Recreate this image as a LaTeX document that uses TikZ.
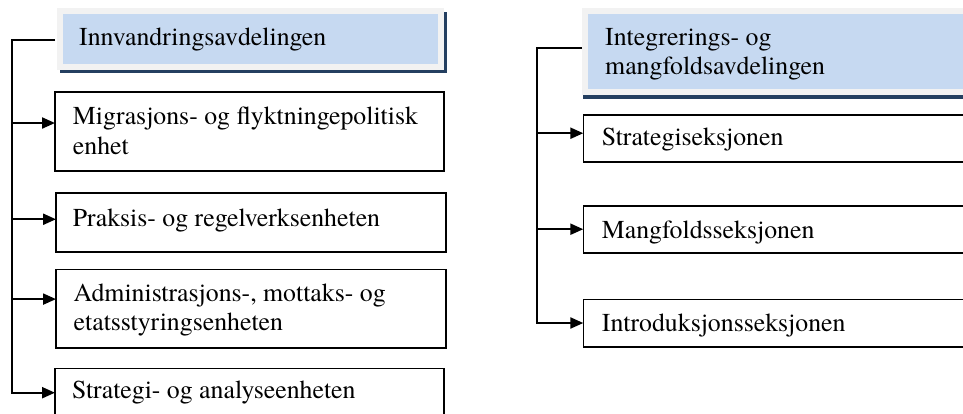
\documentclass[tikz,border=0pt]{standalone}
\usepackage{fontspec}
\setmainfont{texgyretermes}[Extension=.otf, UprightFont=*-regular, BoldFont=*-bold, ItalicFont=*-italic, BoldItalicFont=*-bolditalic]
\usetikzlibrary{arrows.meta,calc}
\definecolor{hdrblue}{HTML}{C6D9F1}
\definecolor{hdrgray}{HTML}{F2F2F2}
\definecolor{hdrnavy}{HTML}{243F60}
\tikzset{
  unitbox/.style={draw=black, line width=1.6pt, fill=white, anchor=north west, inner sep=0pt, outer sep=0pt},
  hdrbox/.style={draw=hdrgray, line width=6pt, fill=hdrblue, anchor=north west, inner sep=0pt, outer sep=0pt},
  shadowbox/.style={fill=hdrnavy, draw=none},
  lbl/.style={anchor=base west, inner sep=0pt, font=\rmfamily\fontsize{25.8}{29.5}\selectfont},
  conn/.style={draw=black, line width=2.2pt},
  arr/.style={conn, -{Triangle[length=13pt,width=11pt]}}
}
\begin{document}
\begin{tikzpicture}[x=1pt,y=-1pt]
\useasboundingbox (0,0) rectangle (963,413);
\clip (0,0) rectangle (963,413);
\fill[white] (0,0) rectangle (963,413);

% Left header
\fill[shadowbox] (60,12) rectangle (447,72.7);
\node[hdrbox, minimum width=381, minimum height=55.5] (hdrL) at (60,11) {};
\node[lbl] (thL) at (79,45) {Innvandringsavdelingen};

% Right header
\fill[shadowbox] (583.3,12) rectangle (990,99);
\node[hdrbox, minimum width=400, minimum height=81] (hdrR) at (585,11) {};
\node[lbl] (thR1) at (605,45) {Integrerings- og};
\node[lbl] (thR2) at (605,74.5) {mangfoldsavdelingen};

% Left boxes
\node[unitbox, minimum width=389, minimum height=78.7] (b1) at (55,92) {};
\node[lbl] (t1a) at (72.7,124.5) {Migrasjons- og flyktningepolitisk};
\node[lbl] (t1b) at (72.7,154) {enhet};

\node[unitbox, minimum width=390, minimum height=59] (b2) at (56,192.7) {};
\node[lbl] (t2) at (72.7,226.7) {Praksis- og regelverksenheten};

\node[unitbox, minimum width=390, minimum height=78.4] (b3) at (56,269.3) {};
\node[lbl] (t3a) at (73.5,301) {Administrasjons-, mottaks- og};
\node[lbl] (t3b) at (73.5,330.5) {etatsstyringsenheten};

\node[unitbox, minimum width=389, minimum height=48.8] (b4) at (55,368.3) {};
\node[lbl] (t4) at (72,398) {Strategi- og analyseenheten};

% Right boxes
\node[unitbox, minimum width=400, minimum height=46.7] (r1) at (583.3,115) {};
\node[lbl] (tr1) at (601.7,145) {Strategiseksjonen};

\node[unitbox, minimum width=400, minimum height=47] (r2) at (583.3,205.7) {};
\node[lbl] (tr2) at (601.7,238.3) {Mangfoldsseksjonen};

\node[unitbox, minimum width=400, minimum height=47.4] (r3) at (583.3,299.3) {};
\node[lbl] (tr3) at (601.7,331.7) {Introduksjonsseksjonen};

% Left connectors
\coordinate (lspine) at (12,40);
\draw[arr] (hdrL.west |- lspine) ++(-5,0) -- (lspine) |- (b4.west);
\draw[arr] (lspine |- {$(b1.north west)!0.394!(b1.south west)$}) -- ($(b1.north west)!0.394!(b1.south west)$);
\draw[arr] (lspine |- {$(b2.north west)!0.45!(b2.south west)$}) -- ($(b2.north west)!0.45!(b2.south west)$);
\draw[arr] (lspine |- {$(b3.north west)!0.38!(b3.south west)$}) -- ($(b3.north west)!0.38!(b3.south west)$);

% Right connectors
\coordinate (rspine) at (537,47.7);
\draw[arr] (hdrR.west |- rspine) ++(-3,0) -- (rspine) |- (r3.west);
\draw[arr] (rspine |- {$(r1.north west)!0.39!(r1.south west)$}) -- ($(r1.north west)!0.39!(r1.south west)$);
\draw[arr] (rspine |- r2.west) -- (r2.west);
\end{tikzpicture}
\end{document}
